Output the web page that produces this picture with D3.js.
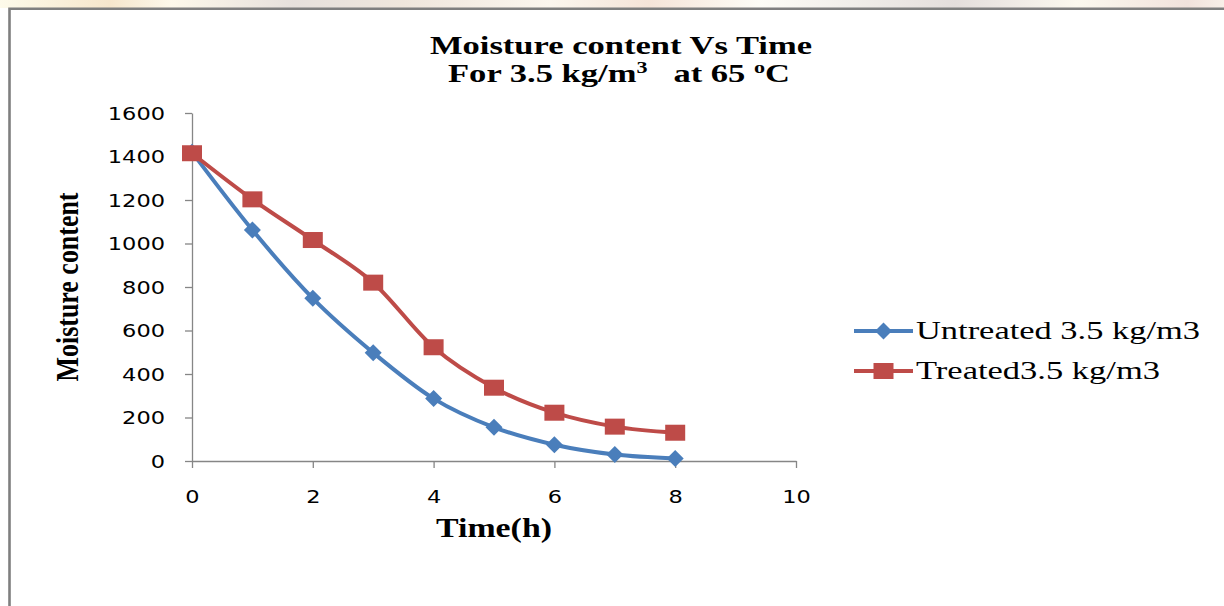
<!DOCTYPE html>
<html>
<head>
<meta charset="utf-8">
<script src="https://cdn.jsdelivr.net/npm/d3@7"></script>
<style>
  html, body { margin: 0; padding: 0; background: #fff; }
  svg { display: block; }
</style>
</head>
<body>
<svg id="chart" width="1224" height="606"></svg>
<script>
// ---- data ----
const timeHours = [0, 1, 2, 3, 4, 5, 6, 7, 8];
const untreated = [1420, 1062, 748, 498, 287, 155, 75, 30, 12];
const treated   = [1415, 1203, 1016, 820, 523, 337, 222, 158, 130];
const xTicks = [0, 2, 4, 6, 8, 10];
const yTicks = [0, 200, 400, 600, 800, 1000, 1200, 1400, 1600];
const seriesNames = ["Untreated 3.5 kg/m3", "Treated3.5 kg/m3"];
const titleLine1 = "Moisture content Vs Time";
const xTitle = "Time(h)";
const yTitle = "Moisture content";

const blue = "#4a7ebb", red = "#be4b48", axisGray = "#868686";
const svg = d3.select("#chart");

// faint page background strip above the chart frame
const defs = svg.append("defs");
const grad = defs.append("linearGradient").attr("id", "bgstrip");
[["0%","#fdfaea"],["9%","#f6e6cc"],["14%","#fdf8ea"],["24%","#e6e0dc"],["33%","#efe6dc"],["45%","#fbf6ee"],
 ["53%","#f5e4d8"],["62%","#fdfcf6"],["78%","#e4dedc"],["88%","#fbf8ee"],["97%","#f1e2dc"],["100%","#f8efe8"]]
  .forEach(([o,c]) => grad.append("stop").attr("offset", o).attr("stop-color", c));
svg.append("rect").attr("x", 0).attr("y", 0).attr("width", 1224).attr("height", 8).attr("fill", "url(#bgstrip)");

// chart frame (top and left visible)
svg.append("path").attr("d", "M9.5,606 V8.8 H1224").attr("fill", "none")
  .attr("stroke", "#7f7f7f").attr("stroke-width", 2.6);

const x = d3.scaleLinear().domain([0, 10]).range([192, 796]);
const y = d3.scaleLinear().domain([0, 1600]).range([461, 113]);

// axes
const yAxis = svg.append("g").attr("transform", `translate(${x(0)},0)`)
  .call(d3.axisLeft(y).tickValues(yTicks).tickFormat(d3.format("d")).tickSize(7).tickPadding(20).tickSizeOuter(0));
const xAxis = svg.append("g").attr("transform", `translate(0,${y(0)})`)
  .call(d3.axisBottom(x).tickValues(xTicks).tickFormat(d3.format("d")).tickSize(7).tickSizeOuter(0));
[yAxis, xAxis].forEach(g => {
  g.select(".domain").attr("stroke", axisGray).attr("stroke-width", 1.3);
  g.selectAll(".tick line").attr("stroke", axisGray).attr("stroke-width", 1.3);
  g.selectAll(".tick text").attr("fill", "#000")
    .style("font-family", "'DejaVu Sans', sans-serif").style("font-size", "17px")
    .each(function () {
      const t = d3.select(this);
      t.attr("textLength", 14.3 * t.text().length).attr("lengthAdjust", "spacingAndGlyphs");
    });
});
yAxis.selectAll(".tick text").attr("dy", "0.36em");
xAxis.selectAll(".tick text").attr("y", 42).attr("dy", 0);

// lines
const line = d3.line().x((d, i) => x(timeHours[i])).y(d => y(d)).curve(d3.curveCardinal.tension(0));
svg.append("path").datum(untreated).attr("d", line).attr("fill", "none")
  .attr("stroke", blue).attr("stroke-width", 4).attr("stroke-linejoin", "round");
svg.append("path").datum(treated).attr("d", line).attr("fill", "none")
  .attr("stroke", red).attr("stroke-width", 4).attr("stroke-linejoin", "round");

// markers
const diamond = (cx, cy, r) => `M${cx},${cy - r}L${cx + r},${cy}L${cx},${cy + r}L${cx - r},${cy}Z`;
svg.append("g").selectAll("path").data(untreated).join("path")
  .attr("d", (d, i) => diamond(x(timeHours[i]), y(d), 8.5)).attr("fill", blue);
svg.append("g").selectAll("rect").data(treated).join("rect")
  .attr("x", (d, i) => x(timeHours[i]) - 10).attr("y", d => y(d) - 8)
  .attr("width", 20).attr("height", 16).attr("fill", red);

// titles
svg.append("text").attr("x", 621).attr("y", 54).attr("text-anchor", "middle")
  .style("font-family", "'Liberation Serif', 'Times New Roman', serif").style("font-weight", "bold")
  .style("font-size", "25px").attr("textLength", 382).attr("lengthAdjust", "spacingAndGlyphs")
  .text(titleLine1);

const t2 = svg.append("text").attr("x", 448).attr("y", 82)
  .style("font-family", "'Liberation Serif', 'Times New Roman', serif").style("font-weight", "bold")
  .style("font-size", "25px").attr("textLength", 342).attr("lengthAdjust", "spacingAndGlyphs");
t2.append("tspan").text("For 3.5 kg/m");
t2.append("tspan").attr("dy", -9).style("font-size", "16px").text("3");
t2.append("tspan").attr("dy", 9).text("\u00a0\u00a0\u00a0at 65 ");
t2.append("tspan").attr("dy", -9).style("font-size", "16px").text("o");
t2.append("tspan").attr("dy", 9).text("C");

svg.append("text").attr("x", 494).attr("y", 537).attr("text-anchor", "middle")
  .style("font-family", "'Liberation Serif', 'Times New Roman', serif").style("font-weight", "bold")
  .style("font-size", "27px").attr("textLength", 116).attr("lengthAdjust", "spacingAndGlyphs")
  .text(xTitle);

svg.append("text").attr("transform", "translate(78,287) rotate(-90)").attr("text-anchor", "middle")
  .style("font-family", "'Liberation Serif', 'Times New Roman', serif").style("font-weight", "bold")
  .style("font-size", "32px").attr("textLength", 189).attr("lengthAdjust", "spacingAndGlyphs")
  .text(yTitle);

// legend
const legend = [
  { name: seriesNames[0], color: blue, type: "diamond", ly: 331, tl: 284 },
  { name: seriesNames[1], color: red, type: "square", ly: 371, tl: 244 }
];
legend.forEach(l => {
  svg.append("line").attr("x1", 854).attr("x2", 913).attr("y1", l.ly).attr("y2", l.ly)
    .attr("stroke", l.color).attr("stroke-width", 4);
  if (l.type === "diamond") {
    svg.append("path").attr("d", diamond(883.5, l.ly, 8.5)).attr("fill", l.color);
  } else {
    svg.append("rect").attr("x", 873.5).attr("y", l.ly - 8).attr("width", 20).attr("height", 16).attr("fill", l.color);
  }
  svg.append("text").attr("x", 916).attr("y", l.ly + 8)
    .style("font-family", "'Liberation Serif', 'Times New Roman', serif").style("font-size", "26px")
    .attr("textLength", l.tl).attr("lengthAdjust", "spacingAndGlyphs").attr("fill", "#000")
    .text(l.name);
});
</script>
</body>
</html>
